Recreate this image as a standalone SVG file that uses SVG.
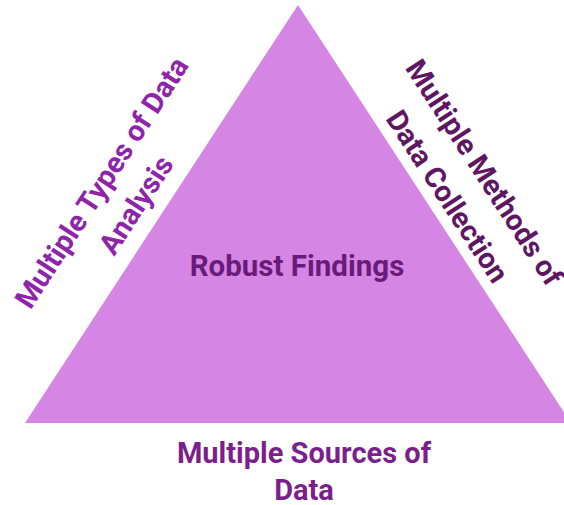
<svg xmlns="http://www.w3.org/2000/svg" width="564" height="505" viewBox="0 0 564 505">
  <style>
    .lbl { font-family: Roboto, "Liberation Sans", sans-serif; font-weight: 700; font-size: 29px; text-anchor: middle; }
    .left { fill: #8E24AA; }
    .right { fill: #5E1663; }
    .center { fill: #6A1B7A; font-size: 29.5px; }
    .bottom { fill: #7B1F8C; }
  </style>
  <rect width="564" height="505" fill="#FFFFFF"/>
  <g id="triangle">
    <polygon points="298,5 571,423 25,423" fill="#D585E3"/>
  </g>
  <g id="center-label">
    <text class="lbl center" x="297" y="276">Robust Findings</text>
  </g>
  <g id="left-label" transform="translate(110,188) rotate(-57)">
    <text class="lbl left"><tspan x="0" y="0">Multiple Types of Data</tspan><tspan x="0" y="41">Analysis</tspan></text>
  </g>
  <g id="right-label" transform="translate(476,178) rotate(57)">
    <text class="lbl right"><tspan x="0" y="0">Multiple Methods of</tspan><tspan x="0" y="44">Data Collection</tspan></text>
  </g>
  <g id="bottom-label">
    <text class="lbl bottom"><tspan x="304" y="463">Multiple Sources of</tspan><tspan x="304" y="500">Data</tspan></text>
  </g>
</svg>
